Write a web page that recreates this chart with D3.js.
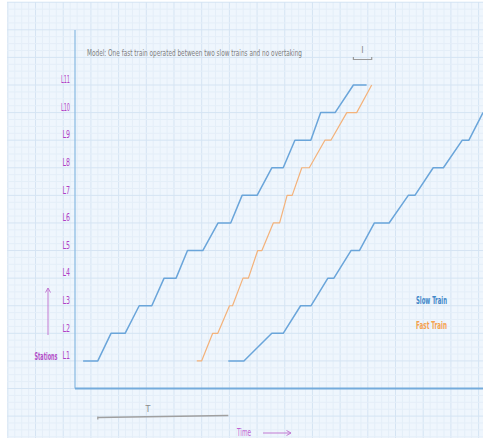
<!DOCTYPE html>
<html>
<head>
<meta charset="utf-8">
<script src="https://cdn.jsdelivr.net/npm/d3@7"></script>
<style>
  html, body { margin: 0; padding: 0; background: #ffffff; }
  svg { display: block; }
  text { font-family: "Liberation Sans Narrow", "DejaVu Sans Condensed", "Roboto", sans-serif; }
</style>
</head>
<body>
<div id="chart"></div>
<script>
// ---------- data ----------
const stations = ["L1", "L2", "L3", "L4", "L5", "L6", "L7", "L8", "L9", "L10", "L11"];
// times (arbitrary minutes) of arrival / departure at each station
const slow1Arrive = [2.7, 12.0, 21.4, 29.7, 37.5, 47.7, 55.7, 65.6, 73.3, 81.9, 92.8];
const slow1Depart = [7.6, 16.7, 25.6, 33.7, 42.6, 51.9, 60.7, 69.4, 78.6, 86.7, 97.2];
const fastArrive  = [40.6, 45.9, 51.5, 56.0, 60.9, 66.1, 70.7, 75.6, 83.3, 90.6, 98.9];
const fastDepart  = [42.2, 47.6, 52.5, 57.8, 62.3, 68.2, 72.4, 78.1, 85.3, 93.9, null];
const slow2Arrive = [51.1, 65.6, 75.2, 84.3, 92.0, 99.8, 111.1, 119.4, 129.1, 136.0];
const slow2Depart = [56.3, 69.4, 78.7, 86.3, 94.8, 104.7, 113.3, 122.8, 131.3, null];
const legendLabels = ["Slow Train", "Fast Train"];
const titleText = "Model: One fast train operated between two slow trains and no overtaking";

// ---------- setup ----------
const W = 483, H = 441;
const svg = d3.select("#chart").append("svg").attr("width", W).attr("height", H);

const x = d3.scaleLinear().domain([0, 136]).range([75, 483]);
const y = d3.scaleLinear().domain([0, 11]).range([388.5, 85]);

const colSlow = "#6aa5da", colFast = "#f4b27a";
const purple = "#b03fc6";

// background grid
const gx0 = 7, gy0 = 2, gx1 = 483, gy1 = 438;
svg.append("rect").attr("x", gx0).attr("y", gy0).attr("width", gx1 - gx0).attr("height", gy1 - gy0)
  .attr("fill", "#eff6fd");
const stepY = y(0) - y(1);
const stepX = 27.69;
const minorV = d3.range(21.7 - stepX, gx1, stepX / 4).filter(v => v >= gx0);
const minorH = d3.range(y(11) - 4 * stepY, gy1, stepY / 4).filter(v => v >= gy0);
const grid = svg.append("g");
grid.selectAll(".mv").data(minorV).join("line")
  .attr("x1", d => d).attr("x2", d => d).attr("y1", gy0).attr("y2", gy1)
  .attr("stroke", (d, i) => i % 4 === 0 ? "#d5e4f3" : "#e4eef8").attr("stroke-width", 1);
grid.selectAll(".mh").data(minorH).join("line")
  .attr("y1", d => d).attr("y2", d => d).attr("x1", gx0).attr("x2", gx1)
  .attr("stroke", (d, i) => i % 4 === 0 ? "#d5e4f3" : "#e4eef8").attr("stroke-width", 1);

// axes
svg.append("line").attr("x1", x(0)).attr("x2", x(0)).attr("y1", 30).attr("y2", y(0))
  .attr("stroke", "#8fbde4").attr("stroke-width", 1.3);
svg.append("line").attr("x1", x(0)).attr("x2", 483).attr("y1", y(0)).attr("y2", y(0))
  .attr("stroke", "#74abdc").attr("stroke-width", 2);

const yAxis = d3.axisLeft(y).tickValues(d3.range(1, 12)).tickFormat(d => stations[d - 1])
  .tickSize(0).tickPadding(5);
const ya = svg.append("g").attr("transform", `translate(${x(0)},0)`).call(yAxis);
ya.select(".domain").remove();
ya.selectAll("text")
  .attr("y", -6).attr("dy", "0.35em")
  .attr("fill", purple).attr("font-size", 10.5)
  .attr("textLength", d => stations[d - 1].length > 2 ? 9 : 7.5)
  .attr("lengthAdjust", "spacingAndGlyphs")
  .style("font-family", "'Liberation Sans Narrow', 'DejaVu Sans Condensed', sans-serif");

// train lines
function pts(arr, dep) {
  const p = [];
  arr.forEach((a, i) => {
    if (a != null) p.push([a, i + 1]);
    if (dep[i] != null) p.push([dep[i], i + 1]);
  });
  return p;
}
const line = d3.line().x(d => x(d[0])).y(d => y(d[1]));
const trains = [
  { p: pts(slow1Arrive, slow1Depart), c: colSlow, w: 1.5 },
  { p: pts(fastArrive, fastDepart), c: colFast, w: 1.2 },
  { p: pts(slow2Arrive, slow2Depart), c: colSlow, w: 1.5 }
];
svg.append("g").selectAll("path").data(trains).join("path")
  .attr("d", d => line(d.p)).attr("fill", "none")
  .attr("stroke", d => d.c).attr("stroke-width", d => d.w)
  .attr("stroke-linejoin", "round");

// title
svg.append("text").attr("x", 87).attr("y", 53).attr("dy", "0.35em")
  .attr("font-size", 8).attr("fill", "#7d7d7d")
  .attr("textLength", 215).attr("lengthAdjust", "spacingAndGlyphs")
  .text(titleText);

// headway bracket "I" (slow1 arrival at L11 to fast arrival at L11)
const iX0 = x(slow1Arrive[10]), iX1 = x(fastArrive[10]), iY = 59.5;
const br = svg.append("g").attr("stroke", "#9a9a9a").attr("stroke-width", 1.2).attr("fill", "none");
br.append("path").attr("d", `M${iX0},${iY - 2.5}V${iY}H${iX1}V${iY - 2.5}`);
svg.append("text").attr("x", (iX0 + iX1) / 2).attr("y", 50).attr("dy", "0.35em")
  .attr("text-anchor", "middle").attr("font-size", 9).attr("fill", "#8a8a8a").text("I");

// cycle bracket "T" (slow1 departure at L1 to slow2 arrival at L1)
const tX0 = x(slow1Depart[0]), tX1 = x(slow2Arrive[0]), tY = 417.5;
svg.append("path").attr("d", `M${tX0},${tY + 2}V${tY - 1}M${tX0},${tY}L${tX1},${tY - 2}`)
  .attr("stroke", "#a0a0a0").attr("stroke-width", 1.3).attr("fill", "none");
svg.append("text").attr("x", 148).attr("y", 409).attr("dy", "0.35em")
  .attr("text-anchor", "middle").attr("font-size", 9).attr("fill", "#8a8a8a").text("T");

// axis titles
const st = svg.append("text").attr("dy", "0.35em")
  .attr("font-size", 10).attr("font-weight", "bold").attr("fill", "#b24fc8").text("Stations");
const stLen = st.node().getComputedTextLength() || 40;
st.attr("transform", `translate(34.5,356.5) scale(${23 / stLen},1)`);
const arrowCol = "#c27ad2";
svg.append("path").attr("d", "M48,335V288M45.5,292.5L48,288L50.5,292.5")
  .attr("stroke", arrowCol).attr("stroke-width", 1).attr("fill", "none");
svg.append("text").attr("x", 237).attr("y", 432).attr("dy", "0.35em")
  .attr("font-size", 10).attr("fill", "#c062d2")
  .attr("textLength", 14).attr("lengthAdjust", "spacingAndGlyphs").text("Time");
svg.append("path").attr("d", "M263,433H291M286.5,430.5L291,433L286.5,435.5")
  .attr("stroke", arrowCol).attr("stroke-width", 1).attr("fill", "none");

// legend
const legCols = ["#3f87c9", "#f5a24f"];
svg.append("g").selectAll("text").data(legendLabels).join("text")
  .attr("x", 416).attr("y", (d, i) => 300 + i * 25).attr("dy", "0.35em")
  .attr("font-size", 11).attr("font-weight", "bold")
  .attr("fill", (d, i) => legCols[i])
  .attr("textLength", 31).attr("lengthAdjust", "spacingAndGlyphs")
  .text(d => d);
</script>
</body>
</html>
